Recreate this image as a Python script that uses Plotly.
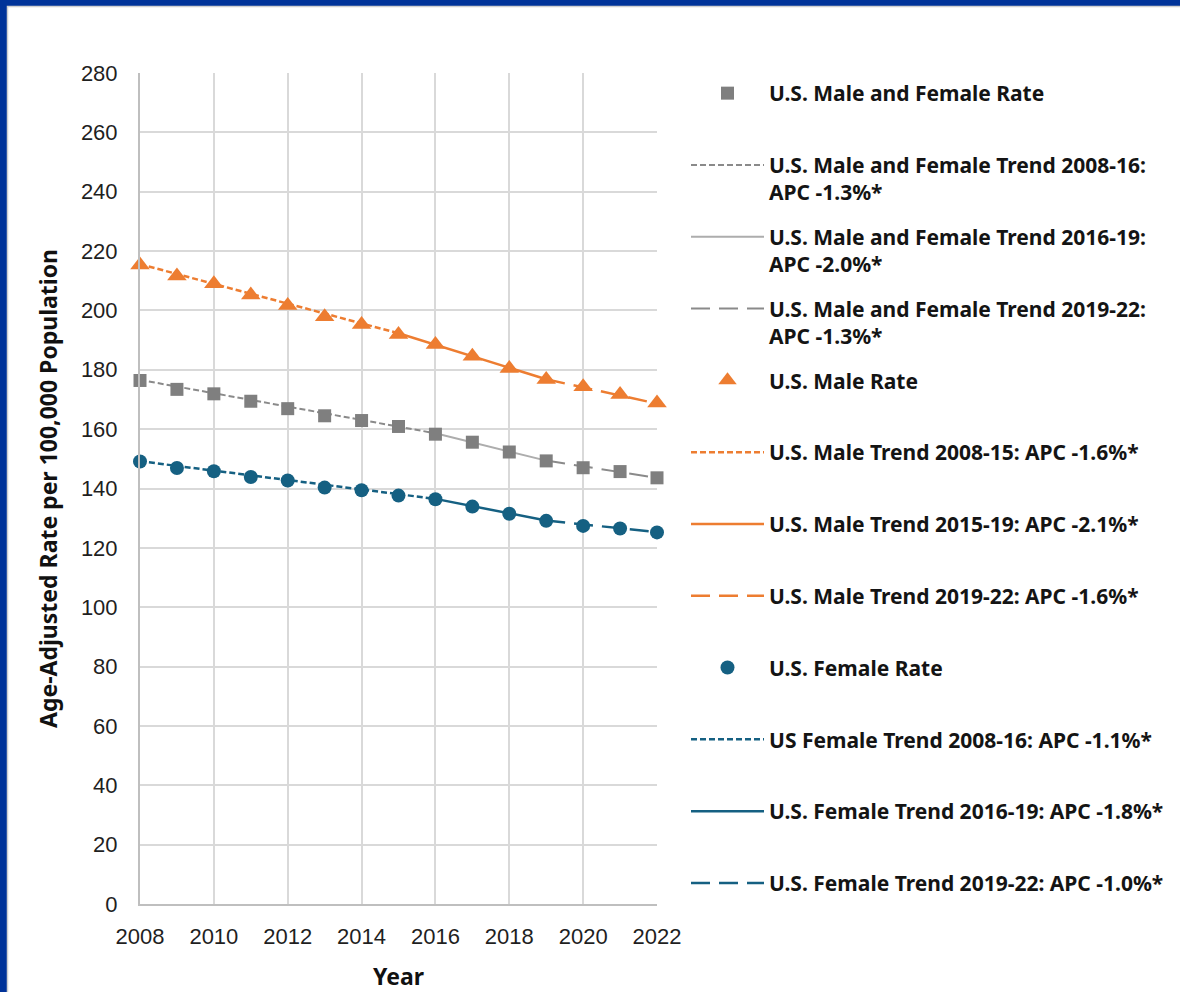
import plotly.graph_objects as go

years = list(range(2008, 2023))
both_rate = [176.4, 173.4, 171.9, 169.4, 166.9, 164.5, 162.9, 160.9, 158.3, 155.6, 152.3, 149.3, 147.0, 145.7, 143.6]
male_rate = [215.3, 211.6, 209.0, 205.2, 201.7, 197.9, 195.3, 191.9, 188.5, 184.6, 180.4, 176.7, 174.3, 171.7, 168.8]
female_rate = [149.1, 146.9, 145.8, 143.9, 142.7, 140.3, 139.4, 137.6, 136.4, 133.9, 131.5, 129.1, 127.4, 126.5, 125.2]

# trend segments: (legend label, segment years, fitted values at segment ends)
both_trends = [
    ("U.S. Male and Female Trend 2008-16:<br>APC -1.3%*", [2008, 2016], [176.6, 158.6]),
    ("U.S. Male and Female Trend 2016-19:<br>APC -2.0%*", [2016, 2019], [158.6, 149.4]),
    ("U.S. Male and Female Trend 2019-22:<br>APC -1.3%*", [2019, 2022], [149.4, 143.6]),
]
male_trends = [
    ("U.S. Male Trend 2008-15: APC -1.6%*", [2008, 2015], [215.6, 192.3]),
    ("U.S. Male Trend 2015-19: APC -2.1%*", [2015, 2019], [192.3, 176.8]),
    ("U.S. Male Trend 2019-22: APC -1.6%*", [2019, 2022], [176.8, 168.6]),
]
female_trends = [
    ("US Female Trend 2008-16: APC -1.1%*", [2008, 2016], [149.2, 136.5]),
    ("U.S. Female Trend 2016-19: APC -1.8%*", [2016, 2019], [136.5, 129.2]),
    ("U.S. Female Trend 2019-22: APC -1.0%*", [2019, 2022], [129.2, 125.3]),
]

GRAY = "#7F7F7F"
GRAY_DASH = "#8A8A8A"
GRAY_SOLID = "#ADADAD"
ORANGE = "#ED7D31"
BLUE = "#156082"
SHORT = "6px,3px"
LONG = "19px,9px"

W, H = 1180, 992
ML, MR, MT, MB = 140, 523, 73, 88
PW, PH = W - ML - MR, H - MT - MB

LEG_FONT = 21
LINE_H = LEG_FONT * 1.3
ITEM_H = 2 * LINE_H + 3
PITCH = 71.8


def px2x(px):
    return (px - ML) / PW


def py2y(py):
    return (H - MB - py) / PH


fig = go.Figure()

order = ["both_rate"] + [t[0] for t in both_trends] + ["male_rate"] + \
        [t[0] for t in male_trends] + ["female_rate"] + [t[0] for t in female_trends]
rank = {k: i + 1 for i, k in enumerate(order)}
last_key = order[-1]


def label(key, text):
    # pad one-line entries to two lines so every legend slot is the same height
    if "<br>" in text or key == last_key:
        return text
    return text + "<br> "


def add_trends(trends, colors, width):
    styles = [SHORT, "solid", LONG]
    for i, (name, xs, ys) in enumerate(trends):
        fig.add_trace(go.Scatter(
            x=xs, y=ys, mode="lines", name=label(name, name),
            line=dict(color=colors[i], width=width, dash=styles[i]),
            legendgroup=name, legendrank=rank[name], cliponaxis=False,
        ))


add_trends(both_trends, [GRAY_DASH, GRAY_SOLID, GRAY_DASH], 2)
add_trends(male_trends, [ORANGE, ORANGE, ORANGE], 2.5)
add_trends(female_trends, [BLUE, BLUE, BLUE], 2.5)

fig.add_trace(go.Scatter(
    x=years, y=both_rate, mode="markers", name=label("both_rate", "U.S. Male and Female Rate"),
    marker=dict(symbol="square", size=13, color=GRAY),
    legendgroup="both_rate", legendrank=rank["both_rate"], cliponaxis=False,
))
fig.add_trace(go.Scatter(
    x=years, y=male_rate, mode="markers", name=label("male_rate", "U.S. Male Rate"),
    marker=dict(symbol="triangle-up", size=17, color=ORANGE),
    legendgroup="male_rate", legendrank=rank["male_rate"], cliponaxis=False,
))
fig.add_trace(go.Scatter(
    x=years, y=female_rate, mode="markers", name=label("female_rate", "U.S. Female Rate"),
    marker=dict(symbol="circle", size=14, color=BLUE),
    legendgroup="female_rate", legendrank=rank["female_rate"], cliponaxis=False,
))

TICK_FONT = dict(family="Liberation Sans, Arial, sans-serif", size=22, color="#1f1f1f")
TITLE_FONT = dict(family="Noto Sans, sans-serif", size=23, color="#111111", weight="bold")

fig.update_layout(
    width=W, height=H,
    margin=dict(l=ML, r=MR, t=MT, b=MB, autoexpand=False),
    paper_bgcolor="#003399",
    plot_bgcolor="white",
    font=dict(family="Liberation Sans, Arial, sans-serif", size=17, color="#222222"),
    showlegend=True,
    legend=dict(
        xref="container", yref="paper",
        x=686 / W, y=1, xanchor="left", yanchor="top",
        bgcolor="rgba(0,0,0,0)",
        font=dict(family="Noto Sans, sans-serif", size=LEG_FONT, color="#141414", weight="bold"),
        itemwidth=73, valign="top", tracegroupgap=PITCH - ITEM_H,
        traceorder="grouped",
    ),
    shapes=[dict(
        type="rect", xref="paper", yref="paper", layer="below",
        x0=px2x(7.5), x1=px2x(W + 20), y0=py2y(H + 20), y1=py2y(6.5),
        fillcolor="white", line=dict(color="#D0D0D0", width=1.5),
    )],
)

fig.update_xaxes(
    range=[2008, 2022], tick0=2008, dtick=2,
    showgrid=True, gridcolor="#D9D9D9", gridwidth=2,
    showline=True, linecolor="#BFBFBF", linewidth=2, zeroline=False,
    ticks="", ticklabelstandoff=12, tickfont=TICK_FONT,
    title=dict(text="Year", standoff=21, font=TITLE_FONT),
)
fig.update_yaxes(
    range=[0, 280], tick0=0, dtick=20,
    showgrid=True, gridcolor="#D9D9D9", gridwidth=2,
    showline=True, linecolor="#BFBFBF", linewidth=2, zeroline=False,
    ticks="", ticklabelstandoff=16, tickfont=TICK_FONT,
    title=dict(text="Age-Adjusted Rate per 100,000 Population", standoff=17, font=TITLE_FONT),
)

fig.write_html("out.html", config={"displayModeBar": False},
               post_script="document.body.style.margin='0';")
